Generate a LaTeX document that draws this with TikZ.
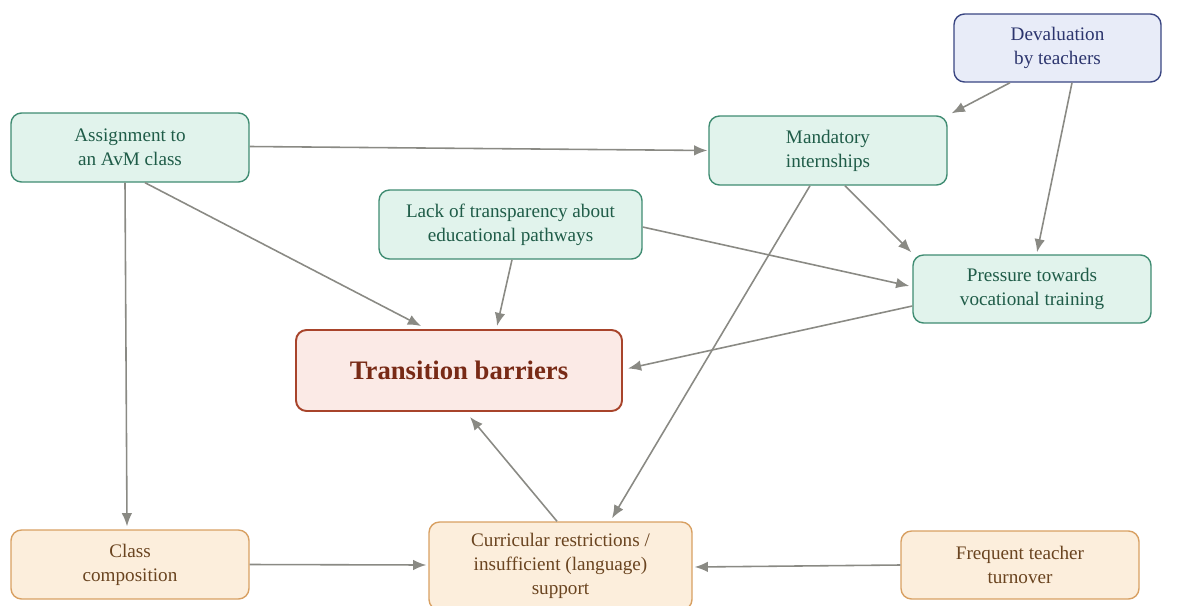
\documentclass[tikz,border=0pt]{standalone}
\usepackage{fontspec}
\setmainfont{Liberation Serif}
\usetikzlibrary{arrows.meta,calc}
\definecolor{gfill}{HTML}{E1F3EC}
\definecolor{gdraw}{HTML}{3F8C72}
\definecolor{gtext}{HTML}{1F5C48}
\definecolor{bfill}{HTML}{E8ECF8}
\definecolor{bdraw}{HTML}{3A4682}
\definecolor{btext}{HTML}{2C356E}
\definecolor{rfill}{HTML}{FBEAE6}
\definecolor{rdraw}{HTML}{A8442B}
\definecolor{rtext}{HTML}{782A16}
\definecolor{ofill}{HTML}{FCEEDC}
\definecolor{odraw}{HTML}{D8A062}
\definecolor{otext}{HTML}{6A4420}
\definecolor{arr}{HTML}{8A8A84}
\tikzset{
  box/.style={rectangle, rounded corners=6pt, line width=0.8pt, align=center,
    inner sep=0pt, font=\fontsize{10.9}{13.6}\selectfont},
  gbox/.style={box, fill=gfill, draw=gdraw, text=gtext},
  bbox/.style={box, fill=bfill, draw=bdraw, text=btext},
  obox/.style={box, fill=ofill, draw=odraw, text=otext},
  rbox/.style={box, fill=rfill, draw=rdraw, text=rtext, line width=1.1pt,
    font=\fontsize{15.2}{18}\selectfont\bfseries},
  con/.style={draw=arr, line width=0.9pt, -{Latex[length=7.5pt,width=6pt]}}
}
\begin{document}
\begin{tikzpicture}[x=0.02cm,y=-0.02cm]
\useasboundingbox (0,0) rectangle (1189,605);
\begin{scope}
\clip (0,0) rectangle (1189,605);
\node[bbox, minimum width=207*0.02cm, minimum height=68*0.02cm] (dev) at (1057.5,48) {Devaluation\\by teachers};
\node[gbox, minimum width=238*0.02cm, minimum height=69*0.02cm] (assign) at (130,147.5) {Assignment to\\an AvM class};
\node[gbox, minimum width=238*0.02cm, minimum height=69*0.02cm] (mand) at (828,150.5) {Mandatory\\internships};
\node[gbox, minimum width=263*0.02cm, minimum height=69*0.02cm] (lack) at (510.5,224.5) {Lack of transparency about\\educational pathways};
\node[gbox, minimum width=238*0.02cm, minimum height=68*0.02cm] (press) at (1032,289) {Pressure towards\\vocational training};
\node[rbox, minimum width=326*0.02cm, minimum height=81*0.02cm] (trans) at (459,370.5) {Transition barriers};
\node[obox, minimum width=238*0.02cm, minimum height=69*0.02cm] (cls) at (130,564.5) {Class\\composition};
\node[obox, minimum width=263*0.02cm, minimum height=88*0.02cm] (curr) at (560.5,566) {Curricular restrictions /\\insufficient (language)\\support};
\node[obox, minimum width=238*0.02cm, minimum height=68*0.02cm] (freq) at (1020,565) {Frequent teacher\\turnover};
\end{scope}
\draw[con] ($(dev.south)+(-47.5,0)$) -- ($(mand.north east)+(4,-2)$);
\draw[con] ($(dev.south)+(14.5,0)$) -- ($(press.north)+(5,-2)$);
\draw[con] ($(assign.east)+(0,-1)$) -- ($(mand.west)+(-1,0)$);
\draw[con] ($(assign.south)+(15,0)$) -- ($(trans.north)+(-38,-3)$);
\draw[con] ($(assign.south)+(-5,0)$) -- ($(cls.north)+(-3,-3)$);
\draw[con] ($(mand.south)+(17,0)$) -- ($(press.north west)+(-1,-2)$);
\draw[con] ($(mand.south)+(-18,0)$) -- ($(curr.north)+(51.5,-3)$);
\draw[con] ($(lack.east)+(0,2.5)$) -- ($(press.west)+(-3,-3)$);
\draw[con] ($(lack.south)+(1.5,0)$) -- ($(trans.north)+(38,-3)$);
\draw[con] ($(press.west)+(0,17)$) -- ($(trans.east)+(5,-2)$);
\draw[con] ($(curr.north)+(-3.5,0)$) -- ($(trans.south)+(11,5)$);
\draw[con] (cls.east) -- ($(curr.west)+(-2,-1)$);
\draw[con] (freq.west) -- ($(curr.east)+(2,1)$);
\end{tikzpicture}
\end{document}
